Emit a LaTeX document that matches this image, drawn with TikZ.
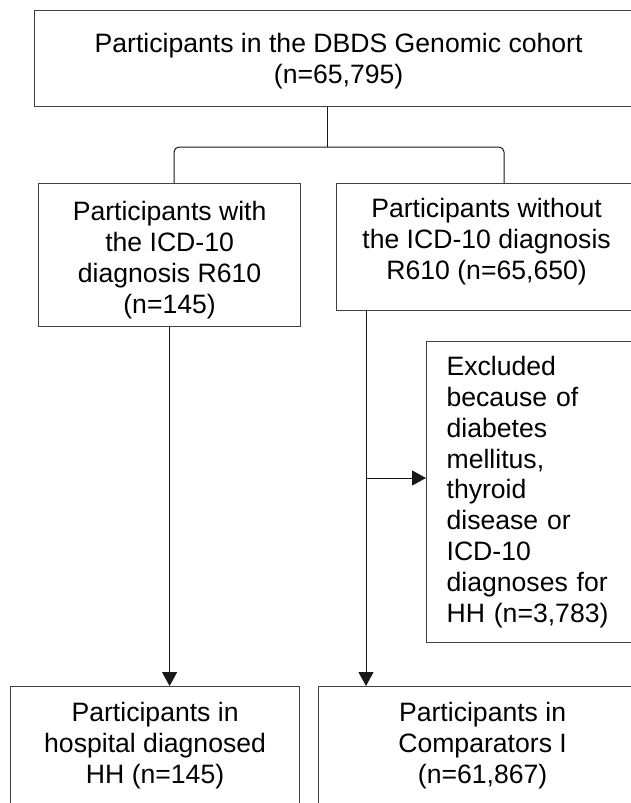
\documentclass[tikz,border=0pt]{standalone}
\usepackage{fontspec}
\setmainfont{Liberation Sans}
\usetikzlibrary{arrows.meta}
\begin{document}
\begin{tikzpicture}[x=1pt, y=-1pt,
    flowbox/.style={draw=black!75, line width=1.2pt, anchor=north west, align=center, inner sep=0pt,
      font={\fontsize{26.6}{30.8}\selectfont}},
    link/.style={draw=black!90, line width=1pt},
    flowarrow/.style={link, -{Triangle[length=14pt, width=15pt]}}]
  \useasboundingbox (0,0) rectangle (631,803);
  \clip (0,0) rectangle (631,803);
  % boxes
  \node[flowbox, minimum width=608pt, minimum height=96pt] (cohort) at (34,10) {\rule{0pt}{24.4pt}Participants in the DBDS Genomic cohort\\(n=65,795)};
  \node[flowbox, minimum width=262pt, minimum height=143pt] (with) at (38,183) {\rule{0pt}{29pt}Participants with\\the ICD-10\\diagnosis R610\\(n=145)};
  \node[flowbox, minimum width=300pt, minimum height=127pt] (without) at (336,183) {Participants without\\the ICD-10 diagnosis\\R610 (n=65,650)\rule[-16.8pt]{0pt}{16.8pt}};
  \node[flowbox, align=left, text width=194pt, inner xsep=20pt, minimum height=301pt] (excluded) at (426,341) {Excluded\\because of\\diabetes\\mellitus,\\thyroid\\disease or\\ICD-10\\diagnoses for\\HH (n=3,783)};
  \node[flowbox, minimum width=289pt, minimum height=118pt] (hh) at (10,686) {Participants in\\hospital diagnosed\\HH (n=145)};
  \node[flowbox, minimum width=328pt, minimum height=118pt] (comp) at (318,686) {Participants in\\Comparators I\\(n=61,867)};
  % split under the cohort
  \coordinate (split) at (327,147);
  \coordinate (lefthook) at (174,183);
  \coordinate (righthook) at (504,183);
  \draw[link] (split |- cohort.south) -- (split);
  \draw[link, rounded corners=5pt] (lefthook) |- (split) -| (righthook);
  % arrows down
  \draw[flowarrow] (with.south) -- (with.south |- hh.north);
  \coordinate (rdrop) at (366,310);
  \coordinate (rbranch) at (366,478);
  \draw[flowarrow] (rdrop |- without.south) -- (rdrop |- comp.north);
  \draw[flowarrow] (rbranch) -- (rbranch -| excluded.west);
\end{tikzpicture}
\end{document}
